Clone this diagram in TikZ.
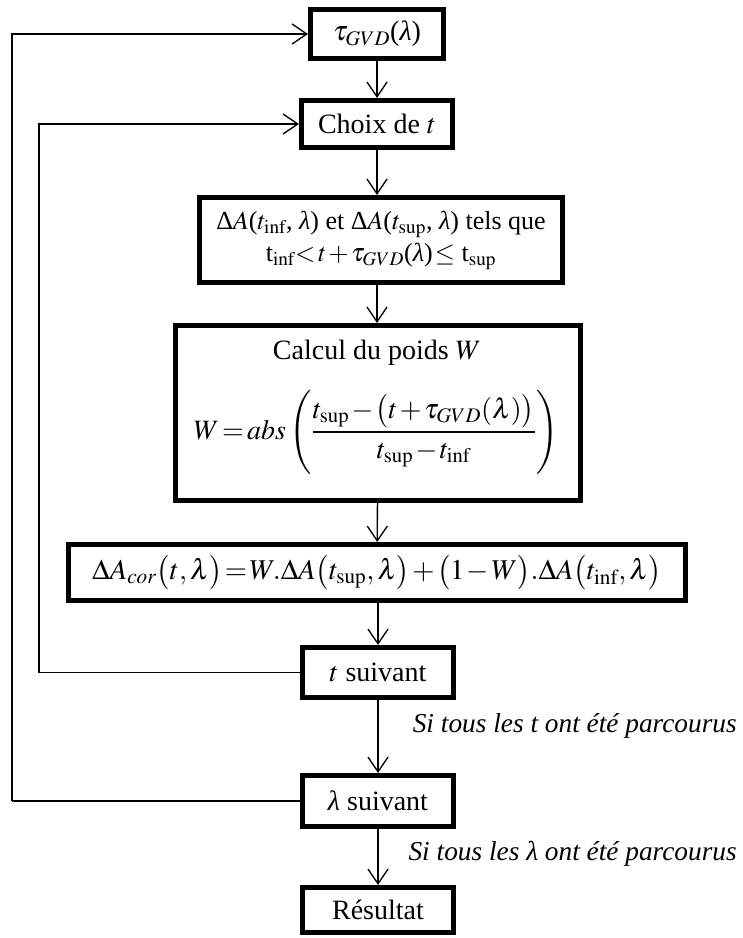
\documentclass[tikz,border=0pt]{standalone}
\usepackage{amsmath}
\usepackage{mathptmx}
\usepackage[no-math]{fontspec}
\setmainfont{Liberation Serif}
\usetikzlibrary{arrows.meta}
\newcommand{\lam}{\textit{λ}}
\begin{document}
\begin{tikzpicture}[x=0.75pt,y=-0.75pt,
  box/.style={draw,line width=3.6pt,inner sep=0pt,align=center,font=\fontsize{21}{25}\selectfont},
  txt/.style={inner sep=0pt,align=center,font=\fontsize{21}{25}\selectfont},
  conn/.style={line width=1pt,-{Straight Barb[length=11pt,width=15pt,line width=1pt]}},
  plain/.style={line width=1pt},
  lab/.style={inner sep=0pt,anchor=east,font=\fontsize{20.5}{24}\selectfont\itshape}]
\useasboundingbox (0,0) rectangle (742,938);
\node[box,minimum width=100pt,minimum height=37pt] (tau) at (377,34) {$\tau_{GVD}$(\lam)};
\node[box,minimum width=113.5pt,minimum height=35.5pt] (choix) at (377,124) {Choix de $t$};
\node[box,minimum width=272.5pt,minimum height=64pt,font=\fontsize{19.5}{24}\selectfont] (dA) at (381,240)
  {Δ$A$($t_{\mathrm{inf}}$, \lam) et Δ$A$($t_{\mathrm{sup}}$, \lam) tels que\\
   \medmuskip=1.5mu\thickmuskip=1.5mu t$_{\mathrm{inf}}{<}\,t+\tau_{GVD}$(\lam)${}\le{}$\,t$_{\mathrm{sup}}$};
\node[box,minimum width=304pt,minimum height=131.5pt] (calc) at (378,413) {};
\node[txt] (calct) at (377,353) {Calcul du poids $W$};
\node[txt,font=\fontsize{21}{26}\selectfont] (calcf) at (376,432)
  {\medmuskip=1.5mu\thickmuskip=2mu$W=abs\left(\dfrac{t_{\mathrm{sup}}-\bigl(t+\tau_{GVD}(\lambda)\bigr)}{t_{\mathrm{sup}}-t_{\mathrm{inf}}}\right)$};
\node[box,minimum width=463pt,minimum height=42.2pt,font=\fontsize{21.5}{26}\selectfont] (cor) at (377,572.5)
  {\medmuskip=1.5mu\thickmuskip=1.5mu$\Delta A_{cor}\bigl(t,\lambda\bigr)=W.\Delta A\bigl(t_{\mathrm{sup}},\lambda\bigr)+\bigl(1-W\bigr).\Delta A\bigl(t_{\mathrm{inf}},\lambda\bigr)$};
\node[box,minimum width=112.7pt,minimum height=37.7pt] (tsuiv) at (378,672.5) {$t$ suivant};
\node[box,minimum width=112.7pt,minimum height=38.5pt] (lsuiv) at (378,801) {\lam\ suivant};
\node[box,minimum width=112.7pt,minimum height=34pt] (res) at (378,910) {Résultat};
\node[lab] (lab1) at (737,726) {Si tous les t ont été parcourus};
\node[lab] (lab2) at (737,854) {Si tous les λ ont été parcourus};
\coordinate (outer) at (12,0);
\coordinate (inner) at (39,0);
\draw[conn] (tau) -- (choix);
\draw[conn] (choix.south) -- (choix.south |- dA.north);
\draw[conn] (choix.south |- dA.south) -- (choix.south |- calc.north);
\draw[conn] (calc) -- (cor);
\draw[conn] (cor.south -| tsuiv) -- (tsuiv);
\draw[conn] (tsuiv) -- (lsuiv);
\draw[conn] (lsuiv) -- (res);
\draw[plain] (tsuiv.west) -- (tsuiv.west -| inner);
\draw[conn] (tsuiv.west -| inner) |- (choix.west);
\draw[plain] (lsuiv.west) -- (lsuiv.west -| outer);
\draw[conn] (lsuiv.west -| outer) |- (tau.west);
\end{tikzpicture}
\end{document}
